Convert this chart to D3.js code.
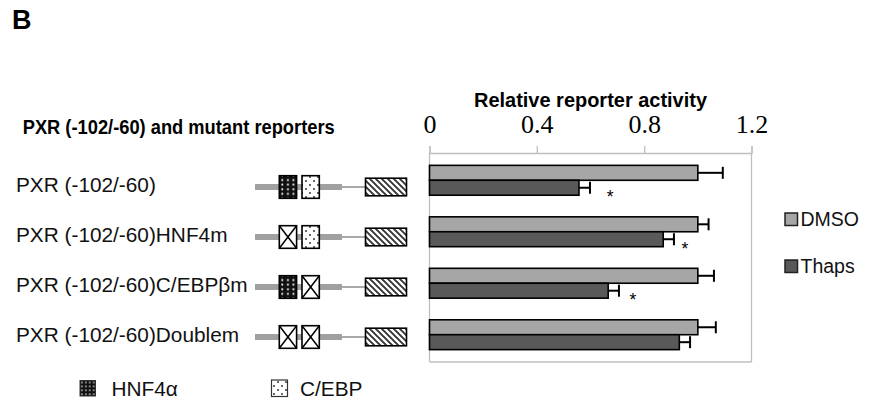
<!DOCTYPE html>
<html>
<head>
<meta charset="utf-8">
<script src="https://cdn.jsdelivr.net/npm/d3@7"></script>
<style>
  html, body { margin: 0; padding: 0; background: #fff; }
  svg { display: block; }
  .sans { font-family: "Liberation Sans", Arial, sans-serif; }
  .serif { font-family: "Liberation Serif", "Times New Roman", serif; }
</style>
</head>
<body>
<svg id="chart" width="873" height="402"></svg>
<script>
// Reporter constructs (rows, top to bottom)
const categories = [
  "PXR (-102/-60)",
  "PXR (-102/-60)HNF4m",
  "PXR (-102/-60)C/EBP\u03b2m",
  "PXR (-102/-60)Doublem"
];
// Which sites are intact in each construct
const hnf4Intact = [true, false, true, false];
const cebpIntact = [true, true, false, false];

const seriesNames = ["DMSO", "Thaps"];
const dmsoValues = [1.00, 1.00, 1.00, 1.00];
const dmsoErrors = [0.093, 0.040, 0.060, 0.067];
const thapsValues = [0.557, 0.871, 0.666, 0.931];
const thapsErrors = [0.041, 0.040, 0.040, 0.040];
// Significance marks (x position in activity units, null = none)
const starAt = [0.673, 0.952, 0.758, null];

const tickValues = [0, 0.4, 0.8, 1.2];
const tickLabels = ["0", "0.4", "0.8", "1.2"];

const colors = { DMSO: "#a6a6a6", Thaps: "#595959" };
const gridGray = "#bfbfbf";

const svg = d3.select("#chart");
const defs = svg.append("defs");

// Fill patterns for the promoter schematic
const pHnf = defs.append("pattern").attr("id", "hnf").attr("patternUnits", "userSpaceOnUse")
  .attr("x", 279.3).attr("y", 0)
  .attr("width", 5.6).attr("height", 4.6);
pHnf.append("rect").attr("width", 5.6).attr("height", 4.6).attr("fill", "#111");
pHnf.append("circle").attr("cx", 3).attr("cy", 2.3).attr("r", 1.05).attr("fill", "#eee");

const pHnfKey = defs.append("pattern").attr("id", "hnfKey").attr("patternUnits", "userSpaceOnUse")
  .attr("x", 80).attr("y", 380.5)
  .attr("width", 3.9).attr("height", 3.9);
pHnfKey.append("rect").attr("width", 3.9).attr("height", 3.9).attr("fill", "#111");
pHnfKey.append("circle").attr("cx", 1.95).attr("cy", 1.95).attr("r", 0.85).attr("fill", "#eee");

const pCebp = defs.append("pattern").attr("id", "cebp").attr("patternUnits", "userSpaceOnUse")
  .attr("width", 8).attr("height", 8);
pCebp.append("rect").attr("width", 8).attr("height", 8).attr("fill", "#fff");
pCebp.append("circle").attr("cx", 2).attr("cy", 2).attr("r", 0.9).attr("fill", "#222");
pCebp.append("circle").attr("cx", 6).attr("cy", 6).attr("r", 0.9).attr("fill", "#222");

const pHatch = defs.append("pattern").attr("id", "hatch").attr("patternUnits", "userSpaceOnUse")
  .attr("width", 6).attr("height", 6);
pHatch.append("rect").attr("width", 6).attr("height", 6).attr("fill", "#fff");
pHatch.append("path").attr("d", "M-1,-1 L7,7 M-4,2 L2,8 M4,-2 L8,2")
  .attr("stroke", "#333").attr("stroke-width", 1.9);

// ---- Bar chart scales ----
const x = d3.scaleLinear().domain([0, 1.2]).range([429.5, 751.5]);
const y = d3.scaleBand().domain(categories).range([153, 362])
  .paddingInner(0.42).paddingOuter(0.24);
const ySub = d3.scaleBand().domain(seriesNames).range([0, y.bandwidth()]);

// Plot frame
const frame = svg.append("g").attr("fill", "none").attr("stroke", gridGray).attr("stroke-width", 1.3);
frame.append("line").attr("x1", x(0)).attr("x2", x(0)).attr("y1", 153).attr("y2", 362);
frame.append("line").attr("x1", x(0)).attr("x2", x(1.2)).attr("y1", 362).attr("y2", 362);
frame.append("line").attr("x1", x(1.2)).attr("x2", x(1.2)).attr("y1", 153).attr("y2", 362);

// Top value axis
const axis = d3.axisTop(x).tickValues(tickValues)
  .tickFormat((d, i) => tickLabels[i]).tickSize(7).tickPadding(13);
const ax = svg.append("g").attr("transform", "translate(0,153)").call(axis);
ax.select(".domain").attr("stroke", gridGray).attr("stroke-width", 1.3);
ax.selectAll(".tick line").attr("stroke", gridGray).attr("stroke-width", 1.3);
ax.selectAll(".tick text").attr("class", "serif").attr("font-size", 26).attr("fill", "#000");

// Bars
const rows = categories.map((c, i) => ({
  cat: c,
  bars: [
    { s: "DMSO", v: dmsoValues[i], e: dmsoErrors[i] },
    { s: "Thaps", v: thapsValues[i], e: thapsErrors[i] }
  ],
  star: starAt[i]
}));

const g = svg.append("g").selectAll("g").data(rows).join("g")
  .attr("transform", d => `translate(0,${y(d.cat)})`);

g.selectAll("rect").data(d => d.bars).join("rect")
  .attr("x", x(0))
  .attr("y", d => ySub(d.s))
  .attr("width", d => x(d.v) - x(0))
  .attr("height", ySub.bandwidth())
  .attr("fill", d => colors[d.s])
  .attr("stroke", "#000").attr("stroke-width", 1.6);

// Error bars
const eb = g.selectAll("g.err").data(d => d.bars).join("g").attr("class", "err")
  .attr("stroke", "#000").attr("stroke-width", 2);
eb.append("line")
  .attr("x1", d => x(d.v)).attr("x2", d => x(d.v + d.e))
  .attr("y1", d => ySub(d.s) + ySub.bandwidth() / 2)
  .attr("y2", d => ySub(d.s) + ySub.bandwidth() / 2);
eb.append("line")
  .attr("x1", d => x(d.v + d.e)).attr("x2", d => x(d.v + d.e))
  .attr("y1", d => ySub(d.s) + ySub.bandwidth() / 2 - 6)
  .attr("y2", d => ySub(d.s) + ySub.bandwidth() / 2 + 6);

// Significance asterisks
g.filter(d => d.star !== null).append("text")
  .attr("class", "sans")
  .attr("x", d => x(d.star))
  .attr("y", y.bandwidth() + 8)
  .attr("text-anchor", "middle")
  .attr("font-size", 17.5)
  .text("*");

// ---- Left side: construct names and promoter schematics ----
const rowY = d3.scalePoint().domain(categories).range([186, 336]);

svg.append("g").selectAll("text").data(categories).join("text")
  .attr("class", "sans")
  .attr("x", 16)
  .attr("y", d => rowY(d) + 5.5)
  .attr("font-size", 20.8)
  .attr("fill", "#111")
  .text(d => d);

const sch = svg.append("g").selectAll("g").data(categories).join("g")
  .attr("transform", d => `translate(0,${rowY(d) + 1})`);

// Promoter line: thick segment then thin segment to the reporter
sch.append("line").attr("x1", 255).attr("x2", 342).attr("y1", 0).attr("y2", 0)
  .attr("stroke", "#a0a0a0").attr("stroke-width", 6);
sch.append("line").attr("x1", 342).attr("x2", 366).attr("y1", 0).attr("y2", 0)
  .attr("stroke", "#a0a0a0").attr("stroke-width", 1.8);

function siteBox(sel, x0, intact, fillId) {
  sel.append("rect")
    .attr("x", x0).attr("y", -11.3).attr("width", 17.3).attr("height", 22.6)
    .attr("fill", (d, i) => intact[i] ? `url(#${fillId})` : "#fff")
    .attr("stroke", "#000").attr("stroke-width", 1.6);
  sel.filter((d, i) => !intact[i]).append("path")
    .attr("d", `M${x0},-11.3 L${x0 + 17.3},11.3 M${x0 + 17.3},-11.3 L${x0},11.3`)
    .attr("stroke", "#000").attr("stroke-width", 1.5).attr("fill", "none");
}
siteBox(sch, 279.3, hnf4Intact, "hnf");
siteBox(sch, 302, cebpIntact, "cebp");

// Reporter gene
sch.append("rect").attr("x", 365.5).attr("y", -8.8).attr("width", 41).attr("height", 17.6)
  .attr("fill", "url(#hatch)").attr("stroke", "#000").attr("stroke-width", 1.6);

// ---- Site key (bottom) ----
const key = svg.append("g");
key.append("rect").attr("x", 80).attr("y", 380.5).attr("width", 15.5).attr("height", 15.5)
  .attr("fill", "url(#hnfKey)").attr("stroke", "#333").attr("stroke-width", 1);
key.append("text").attr("class", "sans").attr("x", 111.5).attr("y", 396)
  .attr("font-size", 20.8).attr("fill", "#111").text("HNF4\u03b1");
key.append("rect").attr("x", 271.5).attr("y", 380).attr("width", 16).attr("height", 16.5)
  .attr("fill", "url(#cebp)").attr("stroke", "#333").attr("stroke-width", 1.2);
key.append("text").attr("class", "sans").attr("x", 300).attr("y", 395.5)
  .attr("font-size", 20.8).attr("fill", "#111").text("C/EBP");

// ---- Series legend (right) ----
const leg = svg.append("g").selectAll("g").data(seriesNames).join("g")
  .attr("transform", (d, i) => `translate(785,${213 + i * 47})`);
leg.append("rect").attr("width", 12.5).attr("height", 12.5)
  .attr("fill", d => colors[d]).attr("stroke", "#222").attr("stroke-width", 1.5);
leg.append("text").attr("class", "sans").attr("x", 15.5).attr("y", 12.5)
  .attr("font-size", 19.5).attr("fill", "#111").text(d => d);

// ---- Titles ----
svg.append("text").attr("class", "sans").attr("x", 12).attr("y", 29)
  .attr("font-size", 27).attr("font-weight", "bold").text("B");
svg.append("text").attr("class", "sans").attr("x", 22.7).attr("y", 134)
  .attr("font-size", 20.5).attr("font-weight", "bold")
  .attr("textLength", 312).attr("lengthAdjust", "spacingAndGlyphs")
  .text("PXR (-102/-60) and mutant reporters");
svg.append("text").attr("class", "sans").attr("x", 474).attr("y", 107)
  .attr("font-size", 20.5).attr("font-weight", "bold")
  .attr("textLength", 233).attr("lengthAdjust", "spacingAndGlyphs")
  .text("Relative reporter activity");
</script>
</body>
</html>
